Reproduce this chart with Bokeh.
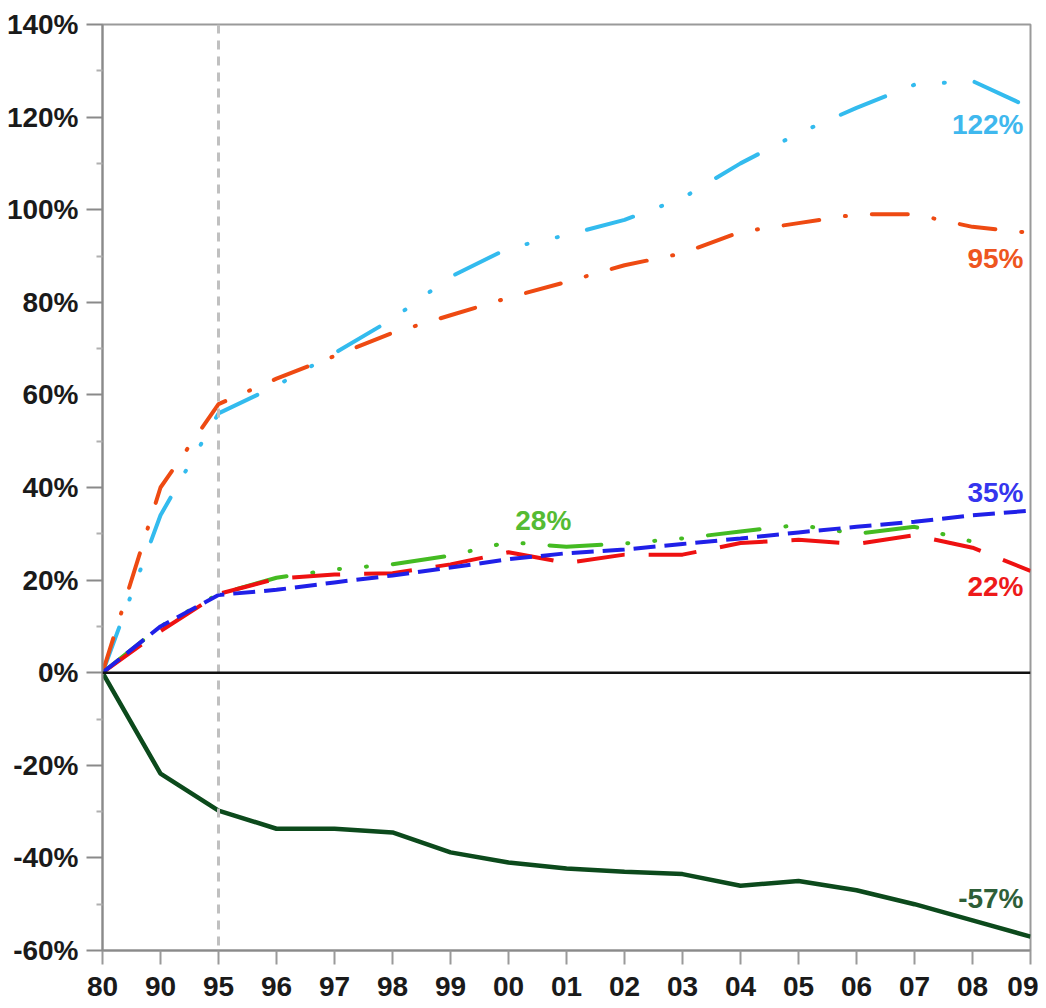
from bokeh.plotting import figure
from bokeh.models import Range1d, FixedTicker, PrintfTickFormatter, Span, ColumnDataSource
from bokeh.core.properties import value
from bokeh.embed import file_html
from bokeh.resources import INLINE

# ---- data ----
years = ["80", "90", "95", "96", "97", "98", "99", "00", "01", "02", "03", "04", "05", "06", "07", "08", "09"]
light_blue = [0, 34, 56, 62, 69, 76.4, 85.5, 91.7, 94.5, 97.8, 102.5, 110, 116.5, 122, 127, 127.8, 122]
orange = [0, 40, 58, 63.5, 68.4, 73.4, 77.2, 81, 84.4, 88, 90.6, 95.2, 97.1, 99, 99, 96.3, 95]
green = [0, 10, 17, 20.5, 22.3, 23.4, 25.3, 28.2, 27.2, 27.9, 29, 30.5, 31.9, 30, 31.5, 28.3]
red = [0, 9, 17, 20.3, 21.2, 21.5, 23.4, 26, 23.7, 25.5, 25.5, 28, 28.7, 27.8, 29.7, 27, 22]
blue = [0, 10, 16.8, 17.9, 19.5, 21, 22.7, 24.5, 25.8, 26.6, 27.8, 29, 30.3, 31.5, 32.6, 34, 35]
dark_green = [0, -21.8, -29.8, -33.7, -33.7, -34.5, -38.8, -41, -42.3, -43, -43.5, -46, -45, -47, -50, -53.5, -57]

end_labels = ["122%", "95%", "35%", "28%", "22%", "-57%"]
y_ticks = [-60, -40, -20, 0, 20, 40, 60, 80, 100, 120, 140]
y_minor = [-50, -30, -10, 10, 30, 50, 70, 90, 110, 130]
marker_year = "95"

xi = list(range(len(years)))

p = figure(width=1038, height=1008, output_backend="svg", toolbar_location=None,
           x_range=Range1d(0, len(years) - 1), y_range=Range1d(-60, 140),
           min_border_left=102, min_border_right=8, min_border_top=24, min_border_bottom=58,
           background_fill_color="white", border_fill_color="white")
p.grid.visible = False
p.outline_line_color = "#9a9a9a"
p.outline_line_width = 2

# x axis
xa = p.xaxis[0]
xa.ticker = FixedTicker(ticks=xi, minor_ticks=[])
xa.major_label_overrides = {i: y for i, y in enumerate(years)}
xa.axis_line_color = "#8a8a8a"
xa.axis_line_width = 2
xa.major_tick_line_color = "#9a9a9a"
xa.major_tick_line_width = 2
xa.major_tick_out = 14
xa.major_tick_in = 0
xa.minor_tick_line_color = None
xa.major_label_standoff = 12
xa.major_label_text_font = "Liberation Sans"
xa.major_label_text_font_style = "bold"
xa.major_label_text_font_size = "28px"
xa.major_label_text_color = "#1a1a1a"

# y axis
ya = p.yaxis[0]
ya.ticker = FixedTicker(ticks=y_ticks, minor_ticks=y_minor)
ya.formatter = PrintfTickFormatter(format="%d%%")
ya.axis_line_color = "#8a8a8a"
ya.axis_line_width = 2
ya.major_tick_line_color = "#8a8a8a"
ya.major_tick_line_width = 2
ya.major_tick_out = 16
ya.major_tick_in = 0
ya.minor_tick_line_color = "#b0b0b0"
ya.minor_tick_line_width = 2
ya.minor_tick_out = 6
ya.minor_tick_in = 0
ya.major_label_standoff = 8
ya.major_label_text_font = "Liberation Sans"
ya.major_label_text_font_style = "bold"
ya.major_label_text_font_size = "28px"
ya.major_label_text_color = "#1a1a1a"

# reference lines
p.add_layout(Span(location=years.index(marker_year), dimension="height",
                  line_color="#c0c0c0", line_width=3, line_dash="9 7"))
p.add_layout(Span(location=0, dimension="width", line_color="#111111", line_width=2.5))

# series
p.line(xi, dark_green, line_color="#0c4a1c", line_width=4.5)
p.line(xi, light_blue, line_color="#33bbee", line_width=4, line_dash="48 30 1 30 1 30", line_cap="round")
p.line(xi, orange, line_color="#ee4a12", line_width=4, line_dash="36 26 1 26", line_cap="round")
p.line(xi[:len(green)], green, line_color="#44bb22", line_width=4, line_dash="52 26 1 26 1 26 1 26", line_cap="round")
p.line(xi, red, line_color="#ee1111", line_width=4, line_dash="48 24")
p.line(xi, blue, line_color="#2020e8", line_width=4, line_dash="22 9")

# end labels
last = len(years) - 1
lab = ColumnDataSource(dict(
    x=[last, last, last, 7.6, last, last],
    y=[118.5, 89.4, 39, 32.8, 18.6, -48.8],
    t=end_labels,
    c=["#3fb8ee", "#ee5520", "#3535ee", "#55bb33", "#ee1a1a", "#2e5e38"],
    off=[-7, -7, -7, 0, -7, -7],
    al=["right", "right", "right", "center", "right", "right"],
))
p.text(x="x", y="y", text="t", text_color="c", x_offset="off", text_align="al",
       text_baseline="middle", text_font=value("Liberation Sans"), text_font_style="bold",
       text_font_size="28px", source=lab)

open("out.html", "w").write(file_html(p, INLINE))
